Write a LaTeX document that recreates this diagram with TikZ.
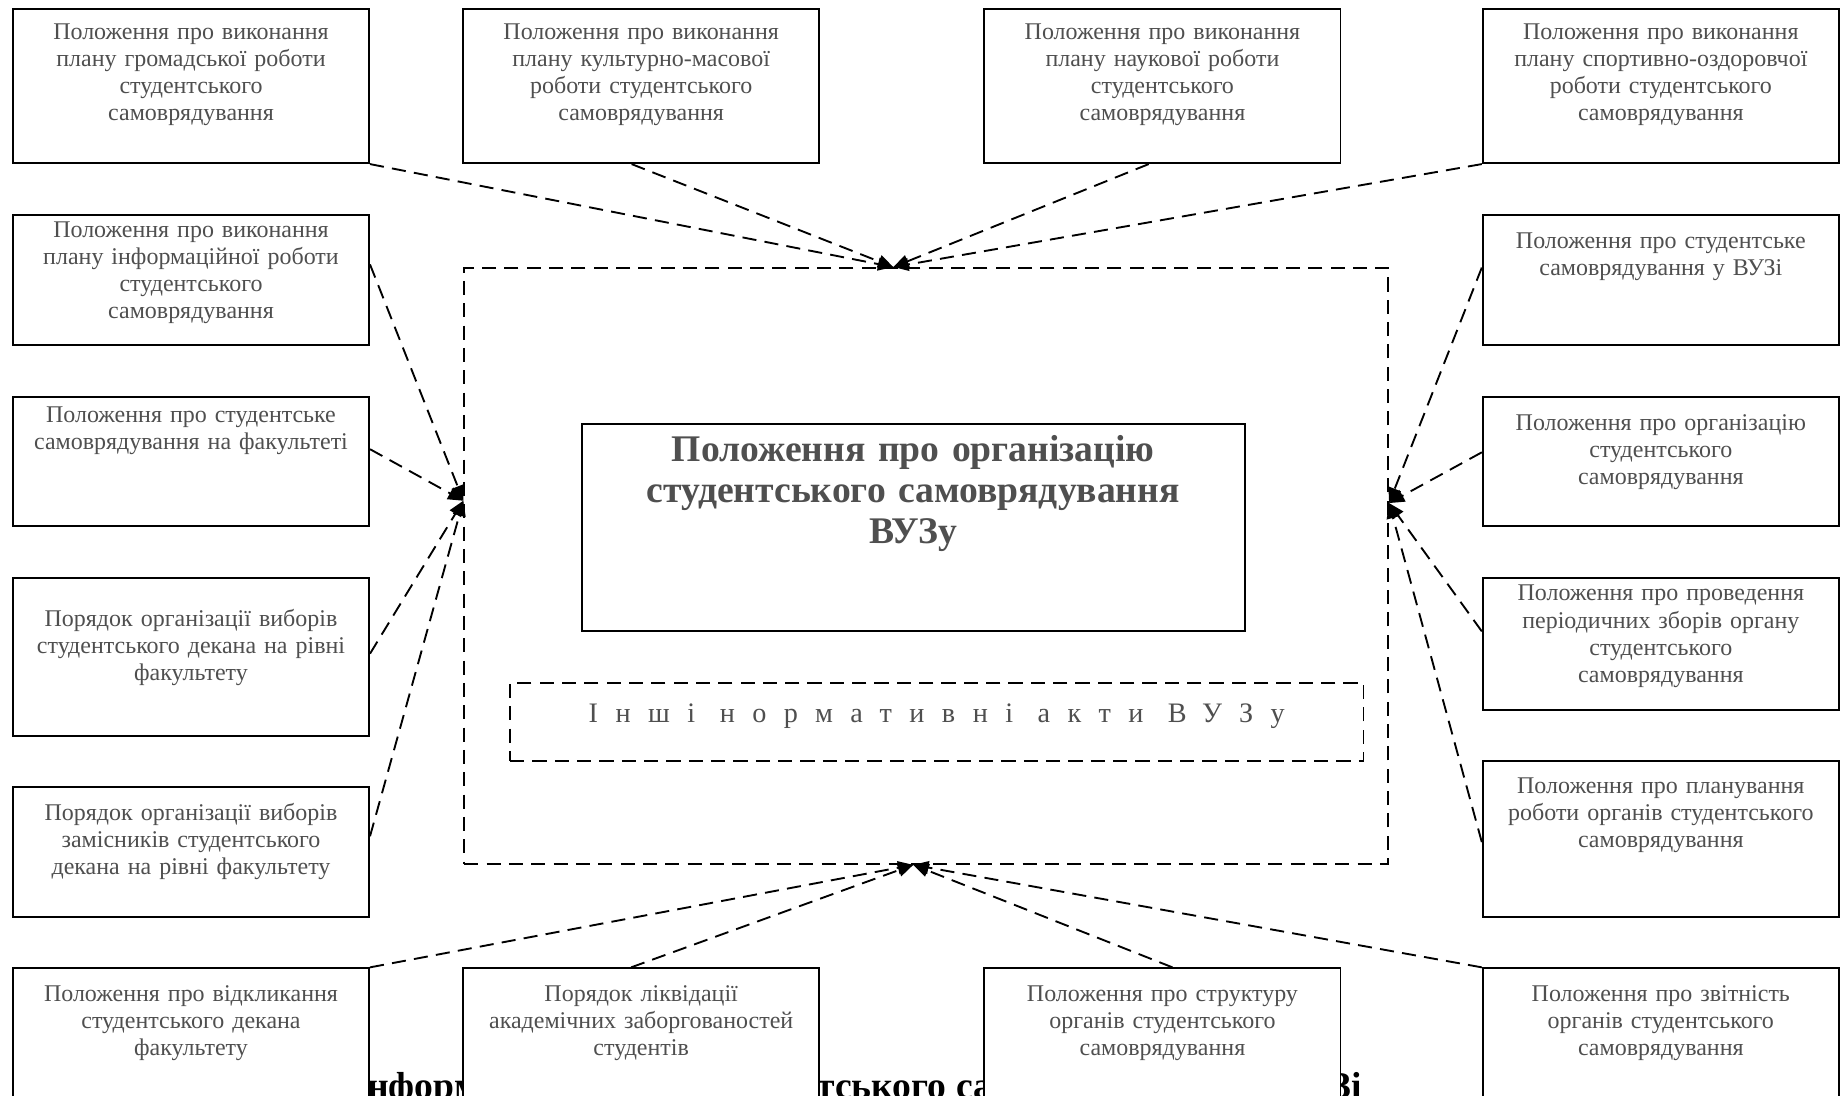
\documentclass[tikz,border=0pt]{standalone}
\usepackage{fontspec}
\setmainfont{Liberation Serif}
\usetikzlibrary{arrows.meta}
\usepackage{xcolor}
\definecolor{txtgray}{HTML}{4F4F4F}

\tikzset{
  doc/.style={draw, line width=.8pt, fill=white, text=txtgray, text width=151.5pt,
    align=center, inner sep=0pt, anchor=north, font=\fontsize{10.2}{11.5}\selectfont},
  link/.style={line width=.8pt, dash pattern=on 6pt off 3.5pt, -{Triangle[length=6.5pt,width=5.5pt]}},
  captxt/.style={inner sep=0pt, font=\fontsize{16}{17.5}\selectfont\bfseries},
}

\begin{document}
\begin{tikzpicture}[x=.5pt,y=-.5pt]
\useasboundingbox (0,0) rectangle (1568,932);
\clip (0,0) rectangle (1568,932);
% caption under the lower boxes
\node[captxt, anchor=base west] (cap1) at (312,935) {нформ};
\node[captxt, anchor=base west] (cap2) at (694,935) {тського са};
\node[captxt, anchor=base east] (cap3) at (1159,935) {Зі};

% top row
\node[doc, text height=12.75pt, text depth=52.75pt] (b1) at (162.5,7) {Положення про виконання\\плану громадської роботи\\студентського\\самоврядування};
\node[doc, text height=12.75pt, text depth=52.75pt] (b2) at (545.5,7) {Положення про виконання\\плану культурно-масової\\роботи студентського\\самоврядування};
\node[doc, text height=12.75pt, text depth=52.75pt] (b3) at (989,7) {Положення про виконання\\плану наукової роботи\\студентського\\самоврядування};
\node[doc, text height=12.75pt, text depth=52.75pt] (b4) at (1413,7) {Положення про виконання\\плану спортивно-оздоровчої\\роботи студентського\\самоврядування};

% left column
\node[doc, text height=9.75pt, text depth=45.75pt] (l1) at (162.5,182) {Положення про виконання\\плану інформаційної роботи\\студентського\\самоврядування};
\node[doc, text height=10.75pt, text depth=44.25pt] (l2) at (162.5,337) {Положення про студентське\\самоврядування на факультеті};
\node[doc, text height=20.75pt, text depth=46.25pt] (l3) at (162.5,491) {Порядок організації виборів\\студентського декана на рівні\\факультету};
\node[doc, text height=14.25pt, text depth=40.75pt] (l4) at (162.5,669) {Порядок організації виборів\\замісників студентського\\декана на рівні факультету};

% right column
\node[doc, text height=14.25pt, text depth=41.25pt] (r1) at (1413,182) {Положення про студентське\\самоврядування у ВУЗі};
\node[doc, text height=14.25pt, text depth=40.75pt] (r2) at (1413,337) {Положення про організацію\\студентського\\самоврядування};
\node[doc, text height=9.75pt, text depth=46.25pt] (r3) at (1413,491) {Положення про проведення\\періодичних зборів органу\\студентського\\самоврядування};
\node[doc, text height=13.75pt, text depth=52.25pt] (r4) at (1413,647) {Положення про планування\\роботи органів студентського\\самоврядування};

% bottom row
\node[doc, text height=14.25pt, text depth=54.25pt] (d1) at (162.5,823) {Положення про відкликання\\студентського декана\\факультету};
\node[doc, text height=14.25pt, text depth=54.25pt] (d2) at (545.5,823) {Порядок ліквідації\\академічних заборгованостей\\студентів};
\node[doc, text height=14.25pt, text depth=54.25pt] (d3) at (989,823) {Положення про структуру\\органів студентського\\самоврядування};
\node[doc, text height=14.25pt, text depth=54.25pt] (d4) at (1413,823) {Положення про звітність\\органів студентського\\самоврядування};

% centre
\node[draw, line width=.8pt, dash pattern=on 6pt off 3.5pt, minimum width=393pt, minimum height=253.5pt, inner sep=0pt] (frame) at (788,481.5) {};
\node[draw, line width=.8pt, text=txtgray, text width=282pt, align=center, inner sep=0pt, anchor=north,
  font=\fontsize{16}{17.5}\selectfont\bfseries, text height=15.8pt, text depth=72.2pt] (main) at (777,360)
  {Положення про організацію\\студентського самоврядування\\ВУЗу};
\node[draw, line width=.8pt, dash pattern=on 6pt off 3.5pt, minimum width=363pt, inner sep=0pt, anchor=north,
  text=txtgray, text height=17pt, text depth=16.5pt,
  font=\fontsize{12}{14}\selectfont\addfontfeatures{LetterSpace=62}] (acts) at (797,580) {Інші нормативні акти ВУЗу};

\coordinate (ftop) at ([xshift=-14pt]frame.north);
\coordinate (fbot) at ([xshift=-5.5pt]frame.south);
\coordinate (fleft) at ([yshift=27.75pt]frame.west);
\coordinate (fright) at ([yshift=26.75pt]frame.east);

\foreach \s in {b1.south east, b2.263, b3.260, b4.south west}
  \draw[link] (\s) -- (ftop);
\foreach \s in {l1.5, l2.4, l3.1, l4.5}
  \draw[link] (\s) -- (fleft);
\foreach \s in {r1.176, r2.177, r3.176, r4.181}
  \draw[link] (\s) -- (fright);
\foreach \s in {d1.north east, d2.97, d3.83, d4.north west}
  \draw[link] (\s) -- (fbot);
\end{tikzpicture}
\end{document}
